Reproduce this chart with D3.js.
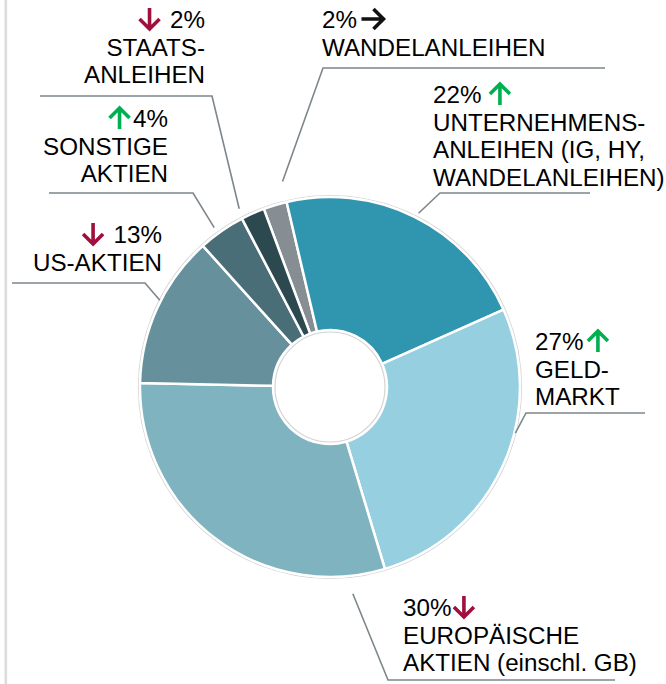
<!DOCTYPE html>
<html>
<head>
<meta charset="utf-8">
<script src="https://cdn.jsdelivr.net/npm/d3@7"></script>
<style>
  body { margin: 0; background: #fff; }
  svg { display: block; font-family: "Liberation Sans", Arial, sans-serif; }
</style>
</head>
<body>
<div id="chart"></div>
<script>
// data, clockwise from the top
var categories = ["WANDELANLEIHEN", "UNTERNEHMENSANLEIHEN", "GELDMARKT", "EUROPÄISCHE AKTIEN", "US-AKTIEN", "SONSTIGE AKTIEN", "STAATSANLEIHEN"];
var values = [2, 22, 27, 30, 13, 4, 2];
var trends = ["flat", "up", "up", "down", "down", "up", "down"];
var labelLines = [
  ["WANDELANLEIHEN"],
  ["UNTERNEHMENS-", "ANLEIHEN (IG, HY,", "WANDELANLEIHEN)"],
  ["GELD-", "MARKT"],
  ["EUROPÄISCHE", "AKTIEN (einschl. GB)"],
  ["US-AKTIEN"],
  ["SONSTIGE", "AKTIEN"],
  ["STAATS-", "ANLEIHEN"]
];
var colors = ["#868e93", "#3096b0", "#96d0e0", "#80b3c0", "#66919c", "#4a6e77", "#2d4950"];

var w = 666, h = 684;
var cx = 330, cy = 387, outerR = 190, innerR = 57;
var fontSize = 24.2, lineH = 28;

// label layout: x, first baseline, anchor, arrow gap, leader line
// leader: [angle deg, radius] at the donut, elbow point, far x of the horizontal
var layout = [
  {x: 322, y: 28, anchor: "start", gap: 6,  lead: {a: 347, r: 211, ex: 323, ey: 68, fx: 605}},
  {x: 433, y: 103, anchor: "start", gap: 8, lead: {a: 27, r: 195, ex: 440, ey: 193, fx: 590}},
  {x: 535, y: 350, anchor: "start", gap: 4, lead: {a: 104, r: 191, ex: 526, ey: 413, fx: 645}},
  {x: 403, y: 616, anchor: "start", gap: 2, lead: {a: 173.7, r: 208, ex: 388, ey: 680, fx: 615}},
  {x: 162, y: 243, anchor: "end", gap: 10,  lead: {a: 297, r: 191, ex: 145, ey: 283, fx: 12}},
  {x: 168, y: 127, anchor: "end", gap: 3,   lead: {a: 324, r: 197, ex: 193, ey: 193, fx: 49}},
  {x: 205, y: 28, anchor: "end", gap: 10,   lead: {a: 333, r: 200, ex: 212, ey: 96, fx: 40}}
];

var trendColor = {up: "#00b050", down: "#a0103c", flat: "#111"};

var svg = d3.select("#chart").append("svg")
  .attr("width", w)
  .attr("height", h);

// left frame line
svg.append("line")
  .attr("x1", 5.8).attr("x2", 5.8)
  .attr("y1", 0).attr("y2", h)
  .attr("stroke", "#dcdcdc")
  .attr("stroke-width", 2.6);

var g = svg.append("g").attr("transform", "translate(" + cx + "," + cy + ")");

var pie = d3.pie()
  .sort(null)
  .value(function(d) { return d; })
  .startAngle(-20.4 * Math.PI / 180)
  .endAngle((360 - 20.4) * Math.PI / 180);

var arc = d3.arc().innerRadius(innerR).outerRadius(outerR);

// faint outline around ring
g.append("circle").attr("r", outerR + 1.5)
  .attr("fill", "none").attr("stroke", "#d4d4d4").attr("stroke-width", 1.2);

g.selectAll("path.slice")
  .data(pie(values))
  .enter()
  .append("path")
  .attr("class", "slice")
  .attr("d", arc)
  .attr("fill", function(d, i) { return colors[i]; })
  .attr("stroke", "#fff")
  .attr("stroke-width", 2.5)
  .attr("stroke-linejoin", "round");

g.append("circle").attr("r", innerR - 2)
  .attr("fill", "#fff").attr("stroke", "#d4d4d4").attr("stroke-width", 1.2);

// leader lines
layout.forEach(function(l) {
  var a = l.lead.a * Math.PI / 180;
  var px = cx + l.lead.r * Math.sin(a);
  var py = cy - l.lead.r * Math.cos(a);
  svg.append("polyline")
    .attr("points", [[l.lead.fx, l.lead.ey], [l.lead.ex, l.lead.ey], [px, py]].join(" "))
    .attr("fill", "none")
    .attr("stroke", "#7d878b")
    .attr("stroke-width", 1.6);
});

function drawArrow(x, y, dir, color) {
  // x,y = centre of arrow box
  var s = 10;
  var p;
  if (dir === "up") p = "M" + x + "," + (y + s + 1) + "V" + (y - s) + "M" + (x - s) + "," + y + "L" + x + "," + (y - s) + "L" + (x + s) + "," + y;
  else if (dir === "down") p = "M" + x + "," + (y - s - 1) + "V" + (y + s) + "M" + (x - s) + "," + y + "L" + x + "," + (y + s) + "L" + (x + s) + "," + y;
  else p = "M" + (x - s - 2) + "," + y + "H" + (x + s) + "M" + x + "," + (y - s) + "L" + (x + s) + "," + y + "L" + x + "," + (y + s);
  svg.append("path")
    .attr("d", p)
    .attr("fill", "none")
    .attr("stroke", color)
    .attr("stroke-width", 3.6)
    .attr("stroke-linecap", "butt")
    .attr("stroke-linejoin", "miter");
}

values.forEach(function(v, i) {
  var l = layout[i];
  var t = svg.append("text")
    .attr("x", l.x)
    .attr("y", l.y)
    .attr("text-anchor", l.anchor)
    .attr("font-size", fontSize)
    .attr("fill", "#000")
    .text(v + "%");
  var tw = t.node().getComputedTextLength();
  var arrowW = 21;
  var ax = l.anchor === "start" ? l.x + tw + l.gap + arrowW / 2 : l.x - tw - l.gap - arrowW / 2;
  var ay = l.y - 9;
  drawArrow(ax, ay, trends[i], trendColor[trends[i]]);

  labelLines[i].forEach(function(s, k) {
    svg.append("text")
      .attr("x", l.x)
      .attr("y", l.y + (k + 1) * lineH - (k > 0 ? 1 : 0))
      .attr("text-anchor", l.anchor)
      .attr("font-size", fontSize)
      .attr("fill", "#000")
      .text(s);
  });
});
</script>
</body>
</html>
